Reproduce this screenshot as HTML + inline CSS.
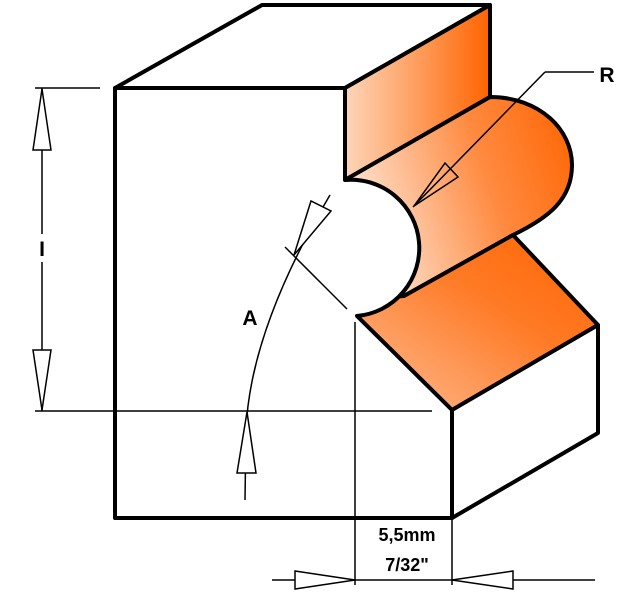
<!DOCTYPE html>
<html><head><style>body{margin:0;background:#fff}</style></head><body>
<svg width="630" height="600" viewBox="0 0 630 600" xmlns="http://www.w3.org/2000/svg">
<defs>
<linearGradient id="g1" x1="0" y1="0" x2="1" y2="0">
<stop offset="0" stop-color="#fdd6ba"/><stop offset="1" stop-color="#ff6400"/></linearGradient>
<linearGradient id="g2" x1="0" y1="0.3" x2="1" y2="0">
<stop offset="0" stop-color="#fde0cc"/><stop offset="0.55" stop-color="#ff8a40"/><stop offset="1" stop-color="#ff6400"/></linearGradient>
<linearGradient id="g3" x1="0" y1="1" x2="1" y2="0">
<stop offset="0" stop-color="#fdc09a"/><stop offset="0.6" stop-color="#ff7a25"/><stop offset="1" stop-color="#ff6400"/></linearGradient>
</defs>
<g stroke="#000" stroke-width="4" stroke-linejoin="round">
<polygon points="115,88 262,5 490,5 345,88" fill="#fff"/>
<polygon points="345,88 490,5 490,97 345,180" fill="url(#g1)"/>
<path d="M345,180 L490,97 C540,97 572,130 572,165 C572,200 548,218 513,235 L404,296 L345,300 Z" fill="url(#g2)"/>
<path d="M404,296 L513,235 L598,325 L452,410 L357,316 L345,300 Z" fill="url(#g3)"/>
<polygon points="452,410 598,325 598,433 452,518" fill="#fff"/>
<path d="M115,88 L345,88 L345,180 A68,68 0 0 1 357,316 L452,410 L452,518 L115,518 Z" fill="#fff"/>
</g>
<g stroke="#000" stroke-width="1.5" fill="none">
<line x1="35" y1="88" x2="100" y2="88"/>
<line x1="35" y1="411" x2="432" y2="411"/>
<line x1="42" y1="88" x2="42" y2="411"/>
<polygon points="42,89 33,150 51,150" fill="#fff"/>
<polygon points="42,410 33,350 51,350" fill="#fff"/>
<path d="M245,500 L246,430 Q250,330 330,195"/>
<polygon points="247,412 237,473 256,473" fill="#fff"/>
<polygon points="294,255 311,201 331,211" fill="#fff"/>
<line x1="285" y1="247" x2="347" y2="309"/>
<line x1="355" y1="322" x2="355" y2="585"/>
<line x1="452" y1="518" x2="452" y2="585"/>
<line x1="272" y1="580" x2="595" y2="580"/>
<polygon points="355,580 295,571 295,589" fill="#fff"/>
<polygon points="452,580 513,571 513,589" fill="#fff"/>
<polyline points="545,72 594,72"/>
<line x1="545" y1="72" x2="413" y2="207"/>
<polygon points="414,206 445,163 458,177" fill="none"/>
</g>
<rect x="32" y="234" width="20" height="28" fill="#fff"/>
<g font-family="Liberation Sans, sans-serif" font-weight="bold" font-size="21" fill="#000">
<text x="42" y="256" text-anchor="middle">I</text>
<text x="250" y="325" text-anchor="middle">A</text>
<text x="607" y="82" text-anchor="middle">R</text>
<text x="407" y="541" text-anchor="middle" font-size="18">5,5mm</text>
<text x="407" y="571" text-anchor="middle" font-size="18">7/32"</text>
</g>
</svg>
</body></html>
